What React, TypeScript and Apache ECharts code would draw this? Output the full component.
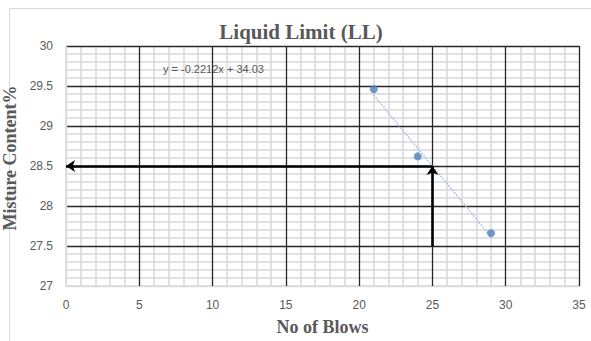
import React, { useEffect, useRef } from "react";
import * as echarts from "echarts";

const blows = [21, 24, 29];
const moisture = [29.46, 28.62, 27.66];
const trendX = [21, 29];
const trendY = [29.385, 27.615];
const arrowH = [[25, 28.5], [0, 28.5]];
const arrowV = [[25, 27.5], [25, 28.5]];
const equationText = "y = -0.2212x + 34.03";
const titleText = "Liquid Limit (LL)";
const xName = "No of Blows";
const yName = "Misture Content%";

const GRAY = "#d9d9d9";
const DARK = "#262626";
const LABEL = "#595959";

export default function App() {
  const ref = useRef<HTMLDivElement>(null);
  useEffect(() => {
    document.body.style.margin = "0";
    if (!ref.current) return;
    const chart = echarts.init(ref.current, null, { renderer: "svg" });
    const xMajor = [GRAY, DARK, DARK, DARK, DARK, DARK, DARK, DARK];
    const yMajor = [GRAY, DARK, DARK, DARK, DARK, DARK, DARK];
    const labelStyle = { color: LABEL, fontSize: 12, fontFamily: "Liberation Sans" };
    chart.setOption({
      animation: false,
      backgroundColor: "#ffffff",
      title: {
        text: titleText,
        left: 301,
        textAlign: "center",
        top: 21,
        padding: 0,
        textStyle: { fontFamily: "Liberation Serif", fontWeight: "bold", fontSize: 21, color: LABEL },
      },
      grid: { left: 66, right: 12, top: 46, bottom: 55, containLabel: false, outerBoundsMode: "none" },
      xAxis: [
        {
          type: "value", min: 0, max: 35, interval: 5, position: "bottom", z: 0,
          name: xName, nameLocation: "middle", nameGap: 32,
          nameTextStyle: { fontFamily: "Liberation Serif", fontWeight: "bold", fontSize: 18, color: LABEL },
          axisLine: { show: true, lineStyle: { color: GRAY, width: 1.5 } },
          axisTick: { show: false },
          axisLabel: { ...labelStyle, margin: 13 },
          splitLine: { show: false },
          minorTick: { show: false, splitNumber: 5 },
          minorSplitLine: { show: true, lineStyle: { color: GRAY, width: 1.5 } },
        },
        {
          type: "value", min: 0, max: 35, interval: 5, position: "top", z: 1,
          axisLine: { show: false }, axisTick: { show: false }, axisLabel: { show: false },
          splitLine: { show: true, lineStyle: { color: xMajor, width: 1.3 } },
        },
      ],
      yAxis: [
        {
          type: "value", min: 27, max: 30, interval: 0.5, position: "left", z: 0,
          name: yName, nameLocation: "middle", nameGap: 38, nameRotate: 90,
          nameTextStyle: { fontFamily: "Liberation Serif", fontWeight: "bold", fontSize: 18, color: LABEL, padding: [0, 0, 0, 16] },
          axisLine: { show: true, lineStyle: { color: GRAY, width: 1.5 } },
          axisTick: { show: false },
          axisLabel: { ...labelStyle, margin: 13 },
          splitLine: { show: false },
          minorTick: { show: false, splitNumber: 5 },
          minorSplitLine: { show: true, lineStyle: { color: GRAY, width: 1.5 } },
        },
        {
          type: "value", min: 27, max: 30, interval: 0.5, position: "right", z: 1,
          axisLine: { show: false }, axisTick: { show: false }, axisLabel: { show: false },
          splitLine: { show: true, lineStyle: { color: yMajor, width: 1.3 } },
        },
      ],
      graphic: [
        {
          type: "rect", z: -10, silent: true,
          shape: { x: 9.5, y: 8.5, width: 700, height: 500 },
          style: { fill: "none", stroke: GRAY, lineWidth: 1 },
        },
        {
          type: "text", left: 163, top: 63, z: 100,
          style: { text: equationText, fill: LABEL, fontSize: 11, fontFamily: "Liberation Sans" },
        },
      ],
      series: [
        {
          type: "line",
          name: "Linear trend",
          data: trendX.map((x, i) => [x, trendY[i]]),
          showSymbol: false,
          symbol: "none",
          lineStyle: { color: "#9dbbe0", width: 1.5, type: "dotted" },
          z: 5,
        },
        {
          type: "scatter",
          name: "Moisture",
          data: blows.map((x, i) => [x, moisture[i]]),
          symbolSize: 8,
          itemStyle: { color: "#4f81bd" },
          z: 6,
        },
        {
          type: "lines",
          coordinateSystem: "cartesian2d",
          data: [{ coords: arrowH }, { coords: arrowV }],
          symbol: ["none", "arrow"],
          symbolSize: 9,
          lineStyle: { color: "#000000", width: 2.6, opacity: 1 },
          z: 7,
        },
      ],
    });
    return () => chart.dispose();
  }, []);
  return (
    <div style={{ position: "absolute", left: 0, top: 0 }}>
      <div ref={ref} style={{ width: 591, height: 341 }} />
    </div>
  );
}
